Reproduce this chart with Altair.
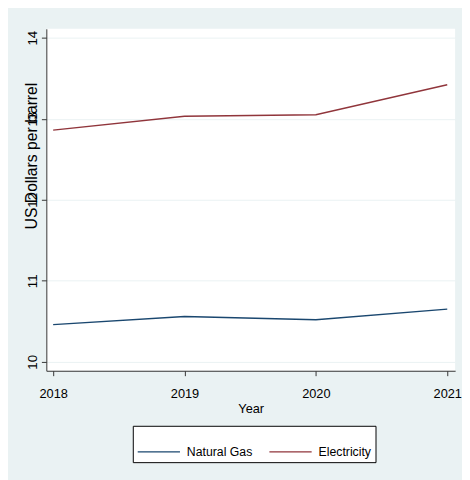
import altair as alt
import pandas as pd

years = [2018, 2019, 2020, 2021]
natural_gas = [10.46, 10.56, 10.52, 10.65]
electricity = [12.86, 13.03, 13.05, 13.42]
series_names = ["Natural Gas", "Electricity"]
series_colors = ["#1a476f", "#90353b"]
y_ticks = [10, 11, 12, 13, 14]

rows = []
for name, vals in zip(series_names, [natural_gas, electricity]):
    for yr, v in zip(years, vals):
        rows.append({"Year": yr, "value": v, "series": name})
df = pd.DataFrame(rows)

FONT = "Liberation Sans"
FS = 13

chart = alt.Chart(df).mark_line(strokeWidth=1.4).encode(
    x=alt.X("Year:Q",
            scale=alt.Scale(domain=[2017.948, 2021.06], nice=False, zero=False),
            axis=alt.Axis(values=years, format="d", title="Year", grid=False,
                          labelFlush=False, labelOverlap=False,
                          tickSize=5, labelPadding=12, titlePadding=2,
                          labelFontSize=FS, titleFontSize=FS,
                          domainColor="#333333", tickColor="#333333")),
    y=alt.Y("value:Q",
            scale=alt.Scale(domain=[9.89, 14.11], nice=False, zero=False),
            axis=alt.Axis(values=y_ticks, format="d", title="US Dollars per barrel",
                          grid=True, gridColor="#eaf2f3", gridWidth=1,
                          labelAngle=270, labelAlign="center", labelBaseline="middle",
                          labelFontSize=13.5, titleFontSize=16,
                          tickSize=5, labelPadding=9,
                          titleAngle=270, titleAlign="center", titleBaseline="middle",
                          titleX=-15, titleY=129,
                          domainColor="#333333", tickColor="#333333")),
    color=alt.Color("series:N",
                    scale=alt.Scale(domain=series_names, range=series_colors),
                    legend=alt.Legend(title=None, orient="none", legendX=88, legendY=404,
                                      direction="horizontal", columns=2,
                                      symbolType="stroke", symbolSize=1849,
                                      symbolStrokeWidth=1.4, labelOffset=6,
                                      columnPadding=14, padding=4,
                                      fillColor="white", strokeColor="black",
                                      cornerRadius=0)),
).properties(
    width=416, height=348,
    autosize=alt.AutoSizeParams(type="none"),
    padding={"left": 39, "top": 17, "right": 7, "bottom": 107},
    background="#eaf2f3",
).configure_view(
    fill="white", stroke=None
).configure_axis(
    labelFont=FONT, titleFont=FONT,
    labelColor="black", titleColor="black", titleFontWeight="normal",
).configure_legend(
    labelFont=FONT, labelFontSize=12.5, labelColor="black",
)

chart.save("out.html", embed_options={"renderer": "svg", "actions": False})
